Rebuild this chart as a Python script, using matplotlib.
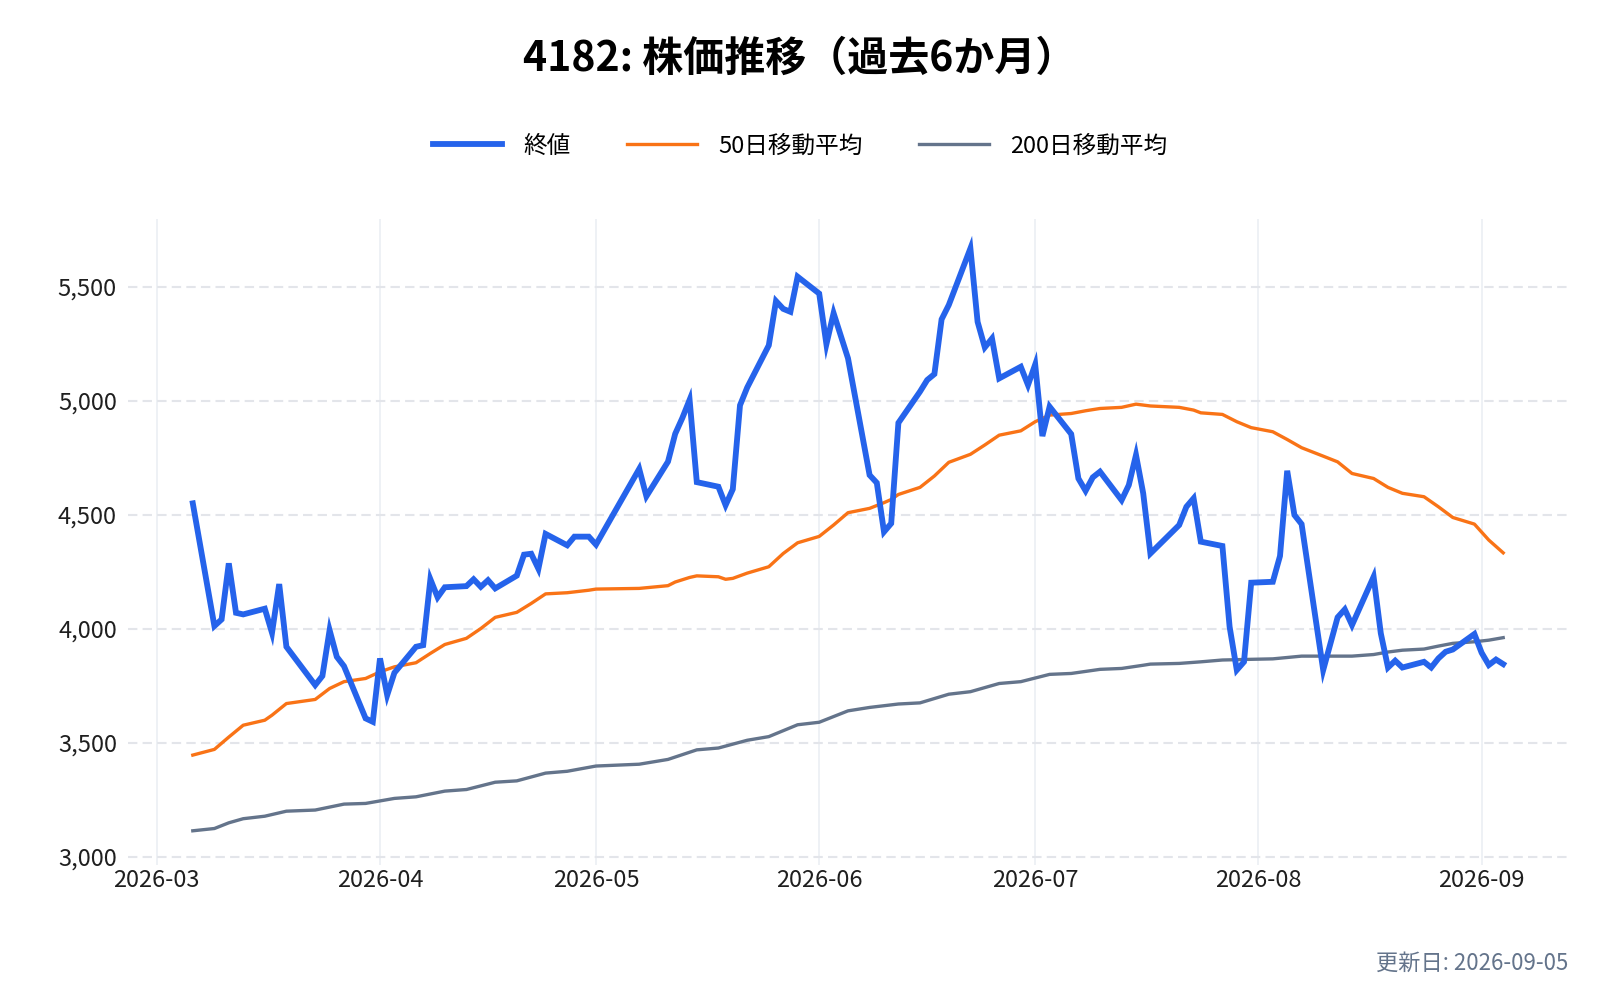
import matplotlib
matplotlib.use('Agg')
import matplotlib.pyplot as plt
import matplotlib.dates as mdates
import pandas as pd

plt.rcParams['font.family'] = ['Noto Sans CJK JP', 'DejaVu Sans']

title = '4182: 株価推移（過去6か月）'
footer = '更新日: 2026-09-05'

close_dates = [
    '2026-03-06', '2026-03-09', '2026-03-10', '2026-03-11', '2026-03-12', '2026-03-13',
    '2026-03-16', '2026-03-17', '2026-03-18', '2026-03-19', '2026-03-23', '2026-03-24',
    '2026-03-25', '2026-03-26', '2026-03-27', '2026-03-30', '2026-03-31', '2026-04-01',
    '2026-04-02', '2026-04-03', '2026-04-06', '2026-04-07', '2026-04-08', '2026-04-09',
    '2026-04-10', '2026-04-13', '2026-04-14', '2026-04-15', '2026-04-16', '2026-04-17',
    '2026-04-20', '2026-04-21', '2026-04-22', '2026-04-23', '2026-04-24', '2026-04-27',
    '2026-04-28', '2026-04-30', '2026-05-01', '2026-05-07', '2026-05-08', '2026-05-11',
    '2026-05-12', '2026-05-13', '2026-05-14', '2026-05-15', '2026-05-18', '2026-05-19',
    '2026-05-20', '2026-05-21', '2026-05-22', '2026-05-25', '2026-05-26', '2026-05-27',
    '2026-05-28', '2026-05-29', '2026-06-01', '2026-06-02', '2026-06-03', '2026-06-05',
    '2026-06-08', '2026-06-09', '2026-06-10', '2026-06-11', '2026-06-12', '2026-06-15',
    '2026-06-16', '2026-06-17', '2026-06-18', '2026-06-19', '2026-06-22', '2026-06-23',
    '2026-06-24', '2026-06-25', '2026-06-26', '2026-06-29', '2026-06-30', '2026-07-01',
    '2026-07-02', '2026-07-03', '2026-07-06', '2026-07-07', '2026-07-08', '2026-07-09',
    '2026-07-10', '2026-07-13', '2026-07-14', '2026-07-15', '2026-07-16', '2026-07-17',
    '2026-07-21', '2026-07-22', '2026-07-23', '2026-07-24', '2026-07-27', '2026-07-28',
    '2026-07-29', '2026-07-30', '2026-07-31', '2026-08-03', '2026-08-04', '2026-08-05',
    '2026-08-06', '2026-08-07', '2026-08-10', '2026-08-12', '2026-08-13', '2026-08-14',
    '2026-08-17', '2026-08-18', '2026-08-19', '2026-08-20', '2026-08-21', '2026-08-24',
    '2026-08-25', '2026-08-26', '2026-08-27', '2026-08-28', '2026-08-31', '2026-09-01',
    '2026-09-02', '2026-09-03', '2026-09-04',
]
close_values = [
    4550, 4012, 4041, 4287, 4070, 4063,
    4088, 3982, 4196, 3921, 3753, 3793,
    3994, 3877, 3836, 3607, 3592, 3870,
    3709, 3807, 3921, 3928, 4217, 4138,
    4182, 4187, 4217, 4184, 4213, 4177,
    4233, 4325, 4329, 4263, 4416, 4366,
    4404, 4404, 4369, 4701, 4581, 4733,
    4855, 4925, 5004, 4643, 4623, 4542,
    4612, 4980, 5058, 5243, 5437, 5403,
    5390, 5544, 5470, 5248, 5384, 5186,
    4674, 4640, 4425, 4462, 4903, 5040,
    5091, 5117, 5357, 5420, 5668, 5346,
    5234, 5273, 5098, 5149, 5069, 5159,
    4845, 4974, 4854, 4659, 4605, 4664,
    4689, 4564, 4630, 4762, 4594, 4330,
    4455, 4535, 4572, 4382, 4363, 4009,
    3819, 3855, 4202, 4206, 4319, 4693,
    4499, 4459, 3819, 4050, 4085, 4016,
    4228, 3980, 3830, 3860, 3830, 3855,
    3830, 3870, 3899, 3909, 3977, 3895,
    3841, 3865, 3845,
]

ma50_dates = [
    '2026-03-06', '2026-03-09', '2026-03-11', '2026-03-13', '2026-03-16', '2026-03-17',
    '2026-03-19', '2026-03-23', '2026-03-25', '2026-03-27', '2026-03-30', '2026-04-01',
    '2026-04-03', '2026-04-06', '2026-04-08', '2026-04-10', '2026-04-13', '2026-04-15',
    '2026-04-17', '2026-04-20', '2026-04-22', '2026-04-24', '2026-04-27', '2026-04-30',
    '2026-05-01', '2026-05-07', '2026-05-11', '2026-05-12', '2026-05-14', '2026-05-15',
    '2026-05-18', '2026-05-19', '2026-05-20', '2026-05-22', '2026-05-25', '2026-05-27',
    '2026-05-29', '2026-06-01', '2026-06-03', '2026-06-05', '2026-06-08', '2026-06-10',
    '2026-06-11', '2026-06-12', '2026-06-15', '2026-06-17', '2026-06-19', '2026-06-22',
    '2026-06-24', '2026-06-26', '2026-06-29', '2026-07-01', '2026-07-03', '2026-07-06',
    '2026-07-08', '2026-07-10', '2026-07-13', '2026-07-15', '2026-07-16', '2026-07-17',
    '2026-07-21', '2026-07-23', '2026-07-24', '2026-07-27', '2026-07-29', '2026-07-31',
    '2026-08-03', '2026-08-05', '2026-08-07', '2026-08-10', '2026-08-12', '2026-08-14',
    '2026-08-17', '2026-08-19', '2026-08-21', '2026-08-24', '2026-08-26', '2026-08-28',
    '2026-08-31', '2026-09-02', '2026-09-04',
]
ma50_values = [
    3446, 3471, 3525, 3577, 3599, 3621,
    3672, 3690, 3738, 3768, 3782, 3811,
    3833, 3851, 3892, 3931, 3958, 4001,
    4050, 4072, 4111, 4153, 4158, 4169,
    4174, 4177, 4189, 4205, 4225, 4232,
    4228, 4217, 4221, 4244, 4272, 4330,
    4377, 4405, 4455, 4509, 4528, 4553,
    4567, 4589, 4620, 4670, 4730, 4765,
    4806, 4849, 4868, 4908, 4937, 4944,
    4956, 4966, 4971, 4985, 4981, 4977,
    4971, 4959, 4947, 4940, 4908, 4882,
    4864, 4830, 4794, 4757, 4732, 4681,
    4659, 4620, 4594, 4579, 4535, 4488,
    4459, 4389, 4333,
]

ma200_dates = [
    '2026-03-06', '2026-03-09', '2026-03-11', '2026-03-13', '2026-03-16', '2026-03-19',
    '2026-03-23', '2026-03-27', '2026-03-30', '2026-04-03', '2026-04-06', '2026-04-10',
    '2026-04-13', '2026-04-17', '2026-04-20', '2026-04-24', '2026-04-27', '2026-05-01',
    '2026-05-07', '2026-05-11', '2026-05-15', '2026-05-18', '2026-05-22', '2026-05-25',
    '2026-05-29', '2026-06-01', '2026-06-05', '2026-06-08', '2026-06-12', '2026-06-15',
    '2026-06-19', '2026-06-22', '2026-06-26', '2026-06-29', '2026-07-03', '2026-07-06',
    '2026-07-10', '2026-07-13', '2026-07-16', '2026-07-17', '2026-07-21', '2026-07-24',
    '2026-07-27', '2026-07-31', '2026-08-03', '2026-08-05', '2026-08-07', '2026-08-10',
    '2026-08-14', '2026-08-17', '2026-08-19', '2026-08-21', '2026-08-24', '2026-08-26',
    '2026-08-28', '2026-08-31', '2026-09-02', '2026-09-04',
]
ma200_values = [
    3114, 3124, 3149, 3167, 3178, 3200,
    3205, 3231, 3234, 3256, 3263, 3288,
    3295, 3327, 3333, 3367, 3375, 3398,
    3406, 3427, 3469, 3477, 3511, 3527,
    3579, 3590, 3640, 3655, 3670, 3675,
    3713, 3724, 3760, 3768, 3800, 3804,
    3822, 3826, 3840, 3845, 3848, 3855,
    3863, 3866, 3868, 3874, 3880, 3880,
    3880, 3887, 3898, 3906, 3911, 3924,
    3936, 3943, 3950, 3961,
]

month_ticks = ['2026-03-01', '2026-04-01', '2026-05-01', '2026-06-01',
               '2026-07-01', '2026-08-01', '2026-09-01']
y_ticks = [3000, 3500, 4000, 4500, 5000, 5500]


def main():
    fig = plt.figure(figsize=(16, 10), dpi=100)
    ax = fig.add_axes([0.08, 0.135, 0.90, 0.646])

    ax.plot(pd.to_datetime(close_dates), close_values, color='#2563eb', lw=4.2,
            label='終値', solid_joinstyle='miter', zorder=3)
    ax.plot(pd.to_datetime(ma50_dates), ma50_values, color='#f97316', lw=2.4,
            label='50日移動平均', zorder=2)
    ax.plot(pd.to_datetime(ma200_dates), ma200_values, color='#64748b', lw=2.4,
            label='200日移動平均', zorder=2)

    ax.set_xlim(pd.Timestamp('2026-02-25'), pd.Timestamp('2026-09-13'))
    ax.set_ylim(2964, 5797)

    ax.set_xticks(pd.to_datetime(month_ticks))
    ax.xaxis.set_major_formatter(mdates.DateFormatter('%Y-%m'))
    ax.set_yticks(y_ticks)
    ax.set_yticklabels([f'{v:,}' for v in y_ticks])
    ax.tick_params(axis='both', length=0, labelsize=17, colors='#1f1f1f')
    ax.tick_params(axis='x', pad=3)
    ax.tick_params(axis='y', pad=8)

    ax.grid(axis='y', color='#e3e5ea', lw=1.5, linestyle=(0, (4.5, 2.5)))
    ax.grid(axis='x', color='#eef1f5', lw=1.4, linestyle='-')
    ax.set_axisbelow(True)
    for s in ax.spines.values():
        s.set_visible(False)

    fig.suptitle(title, x=0.5, y=0.941, va='center', fontsize=29.5, fontweight='bold')
    fig.legend(loc='center', bbox_to_anchor=(0.5, 0.854), ncol=3, frameon=False,
               fontsize=17, handlelength=2.95, handletextpad=0.9, columnspacing=2.4)
    fig.text(0.98, 0.037, footer, ha='right', va='center', fontsize=16, color='#64748b')

    fig.savefig('out.png', dpi=100, facecolor='white')


if __name__ == '__main__':
    main()
